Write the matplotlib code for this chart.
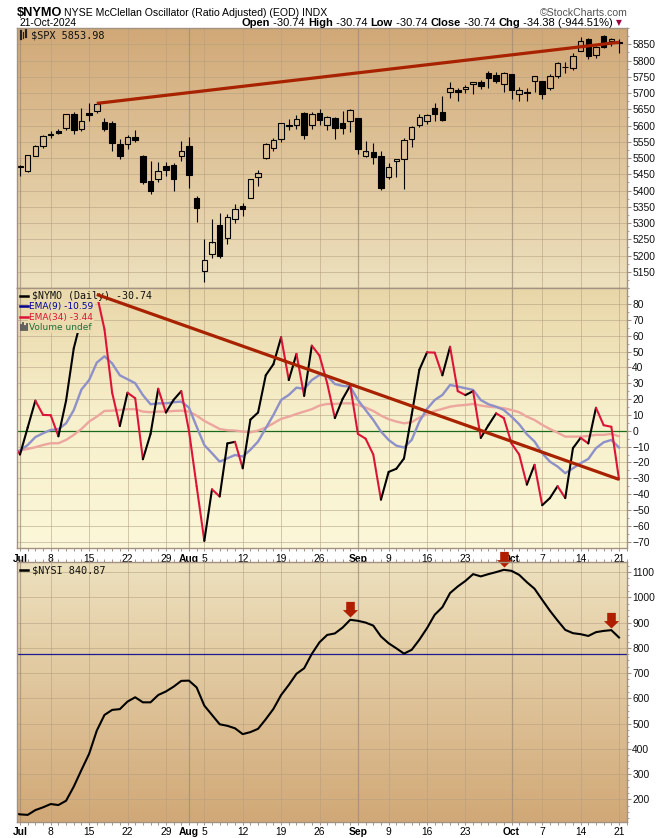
import numpy as np
import pandas as pd
import matplotlib
matplotlib.use('Agg')
import matplotlib.pyplot as plt
from matplotlib.collections import LineCollection
from matplotlib.colors import LinearSegmentedColormap
from matplotlib.path import Path
from matplotlib.lines import Line2D
from matplotlib.ticker import FixedLocator, MultipleLocator
import matplotlib.transforms as mtrans

# ---------------- data ----------------
dates = pd.bdate_range('2024-07-01', '2024-10-21')
dates = dates[~dates.isin(pd.to_datetime(['2024-07-04', '2024-09-02']))]
date_str = [d.strftime('%Y-%m-%d') for d in dates]
prev_day = '2024-06-28'
line_dates = [prev_day] + date_str

spx_open = [5471, 5461, 5507, 5537, 5572, 5584, 5591, 5635, 5590, 5638,
            5644, 5610, 5608, 5543, 5544, 5565, 5505, 5428, 5434, 5476,
            5478, 5505, 5537, 5376, 5151, 5206, 5293, 5253, 5313, 5352,
            5376, 5442, 5500, 5530, 5557, 5602, 5603, 5637, 5602, 5639,
            5602, 5624, 5608, 5613, 5624, 5506, 5520, 5507, 5442, 5490,
            5496, 5557, 5603, 5615, 5655, 5641, 5702, 5709, 5711, 5727,
            5733, 5762, 5755, 5727, 5757, 5698, 5702, 5738, 5738, 5715,
            5752, 5780, 5776, 5829, 5866, 5816, 5875, 5859, 5857]
spx_high = [5480, 5510, 5539, 5570, 5583, 5590, 5635, 5642, 5655, 5670,
            5670, 5622, 5614, 5558, 5570, 5585, 5508, 5490, 5488, 5487,
            5486, 5552, 5566, 5384, 5250, 5312, 5330, 5328, 5358, 5363,
            5436, 5463, 5546, 5561, 5608, 5620, 5632, 5643, 5642, 5651,
            5628, 5627, 5646, 5651, 5624, 5552, 5547, 5522, 5484, 5497,
            5561, 5600, 5636, 5636, 5670, 5690, 5733, 5715, 5725, 5735,
            5741, 5767, 5764, 5765, 5757, 5719, 5716, 5753, 5738, 5757,
            5796, 5796, 5822, 5871, 5870, 5846, 5879, 5870, 5866]
spx_low = [5445, 5458, 5507, 5531, 5562, 5574, 5586, 5574, 5583, 5614,
           5639, 5584, 5522, 5497, 5527, 5550, 5419, 5390, 5427, 5444,
           5399, 5491, 5409, 5302, 5119, 5193, 5193, 5234, 5299, 5322,
           5376, 5415, 5497, 5523, 5550, 5586, 5590, 5560, 5590, 5602,
           5587, 5560, 5574, 5581, 5511, 5503, 5481, 5402, 5434, 5441,
           5406, 5535, 5596, 5604, 5614, 5615, 5686, 5674, 5701, 5698,
           5713, 5714, 5730, 5703, 5682, 5676, 5674, 5702, 5682, 5710,
           5745, 5763, 5771, 5829, 5804, 5809, 5840, 5846, 5824]
spx_close = [5475, 5509, 5537, 5567, 5573, 5577, 5634, 5585, 5615, 5631,
             5667, 5588, 5545, 5505, 5564, 5556, 5427, 5399, 5459, 5464,
             5436, 5522, 5447, 5347, 5186, 5240, 5200, 5319, 5344, 5344,
             5434, 5455, 5543, 5554, 5608, 5597, 5621, 5571, 5635, 5617,
             5626, 5592, 5592, 5648, 5529, 5520, 5503, 5408, 5471, 5496,
             5554, 5596, 5626, 5633, 5635, 5618, 5714, 5703, 5719, 5733,
             5722, 5745, 5738, 5762, 5709, 5710, 5700, 5751, 5696, 5751,
             5792, 5780, 5815, 5860, 5815, 5842, 5841, 5865, 5854]

nymo = [-8,
        -15, 2, 19, 10, 9.8, -3.5, 19, 52, 71, 80,
        86, 64, 24, 3, 24, 20.5, -18, -2, 26.5, 11.5,
        19.5, 25, 0, -35, -69.5, -37, -41.5, -8, -7, -23.7,
        7, 11.5, 35, 42, 59, 32, 48.5, 22, 53.7, 47.4,
        30, 8, 20, 28.5, -2, -5, -15, -43.5, -26, -24,
        -17.5, 10, 38.5, 49.5, 49.3, 35, 53, 25, 22.5, 25,
        -4.5, 3.5, 11, 8, -8, -15, -34, -21.5, -47, -42.5,
        -35, -42.5, -11, -4.5, -8, 14.5, 3.5, 2.5, -30.74]
ema9 = [-14,
        -12.5, -9, -4, -1.6, 0.5, 1, 4.7, 13, 26, 32,
        43, 47, 42.5, 35, 32.5, 30, 22.5, 16.7, 17.3, 17.3,
        18, 18.4, 14.6, 2.6, -9, -14.2, -19.5, -17.4, -15.3, -16.3,
        -12, -6.8, 1.6, 10, 19.4, 22.6, 27.2, 26.4, 32, 35.2,
        34.6, 29.5, 28.3, 27.9, 19.4, 13.1, 6.8, -0.5, -5.8, -9.4,
        -10.6, -5.8, 5.8, 13.8, 19.4, 22.6, 28.9, 27.9, 26.8, 25.8,
        19.4, 16.7, 15.2, 13.1, 8.9, 4.1, -2.2, -6.8, -14.2, -19.5,
        -22.6, -26.8, -23.7, -20.5, -17.8, -11, -7.3, -5.8, -10.59]
ema34 = [-13,
         -12.5, -11.5, -10.4, -9, -7.9, -7.9, -5.8, -2.6, 1.1, 5.8,
         8.9, 12.5, 12.7, 13.1, 13.6, 13.6, 12.1, 11.7, 12.1, 12.1,
         12.5, 12.7, 12.1, 9.6, 6.2, 3.7, 1.1, 0.3, 0.1, -0.5,
         -1, 0.1, 2, 4.7, 7.5, 8.9, 10.6, 12.1, 13.6, 15.9,
         16.9, 16.9, 17.3, 17.3, 16.3, 14.6, 12.5, 9.6, 7.3, 5.8,
         4.7, 5.4, 8.3, 10.4, 12.5, 13.8, 15.2, 15.9, 16.3, 16.9,
         15.9, 15.2, 14.8, 14.2, 13.1, 11.7, 8.9, 6.8, 3.7, 1.1,
         -1.2, -3.7, -3.7, -3.7, -3.3, -2.6, -2.6, -2, -3.44]
nysi = [146,
        140, 138, 157, 168, 181, 177, 194, 250, 316, 380,
        472, 534, 554, 557, 587, 604, 584, 584, 613, 627,
        646, 669, 670, 643, 571, 534, 497, 491, 481, 458,
        466, 479, 517, 558, 613, 653, 697, 719, 776, 822,
        851, 857, 880, 911, 907, 900, 888, 845, 818, 798,
        777, 792, 832, 878, 931, 961, 1017, 1043, 1065, 1092,
        1083, 1092, 1100, 1109, 1105, 1089, 1060, 1034, 990, 947,
        908, 871, 858, 854, 847, 862, 867, 870, 840.87]

spx_trend_dates = ['2024-07-16', '2024-10-21']
spx_trend_vals = [5668, 5856]
nymo_trend_dates = ['2024-07-16', '2024-10-21']
nymo_trend_vals = [86, -30.7]
nysi_level = 775
arrow_dates = ['2024-08-30', '2024-09-30', '2024-10-18']

xtick_dates = ['2024-07-01', '2024-07-08', '2024-07-15', '2024-07-22', '2024-07-29',
               '2024-08-01', '2024-08-05', '2024-08-12', '2024-08-19', '2024-08-26',
               '2024-09-03', '2024-09-09', '2024-09-16', '2024-09-23',
               '2024-10-01', '2024-10-07', '2024-10-14', '2024-10-21']
xtick_labels = ['Jul', '8', '15', '22', '29', 'Aug', '5', '12', '19', '26',
                'Sep', '9', '16', '23', 'Oct', '7', '14', '21']

spx_yticks = list(range(5150, 5851, 50))
nymo_yticks = list(range(-70, 81, 10))
nysi_yticks = list(range(200, 1101, 100))

title_sym = '$NYMO'
title_desc = 'NYSE McClellan Oscillator (Ratio Adjusted) (EOD) INDX'
date_text = '21-Oct-2024'
quote_parts = [('Open', True), (' -30.74 ', False), ('High', True), (' -30.74 ', False),
               ('Low', True), (' -30.74 ', False), ('Close', True), (' -30.74 ', False),
               ('Chg', True), (' -34.38 (-944.51%) ', False)]
spx_legend = '$SPX 5853.98'
nymo_legend = ['$NYMO (Daily) -30.74', 'EMA(9) -10.59', 'EMA(34) -3.44', 'Volume undef']
nysi_legend = '$NYSI 840.87'

# ---------------- helpers ----------------
pos = {d: i for i, d in enumerate(date_str)}
pos[prev_day] = -1
xl = np.array([pos[d] for d in line_dates])
xs = np.arange(len(date_str))

W, H = 670, 838
fig = plt.figure(figsize=(W / 100, H / 100), dpi=100)
fig.patch.set_facecolor('white')


def rect(top, bottom, left=16.5, right=626.7):
    return [left / W, 1 - bottom / H, (right - left) / W, (bottom - top) / H]


def fx(x):
    return x / W


def fy(y):
    return 1 - y / H


SPINE = '#a39282'
GRID = '#b49e80'
MONTH = '#9c8a78'
FONT = ['Liberation Sans', 'DejaVu Sans']

ax1 = fig.add_axes(rect(28, 288))
ax2 = fig.add_axes(rect(288, 548.3))
ax3 = fig.add_axes(rect(562, 821.7))

# gradient colours listed from top to bottom of each panel
grads = {
    ax1: ['#d1a877', '#ede1be'],
    ax2: ['#e8d6a8', '#f7f0cc', '#fbf7d8'],
    ax3: ['#ede1be', '#d1a877'],
}
xlim = (-0.456, 79.0)
ylims = {ax1: (5100, 5900), ax2: (-74.2, 90.1), ax3: (111, 1140)}
yticks = {ax1: spx_yticks, ax2: nymo_yticks, ax3: nysi_yticks}
yminor = {ax1: 25, ax2: 5, ax3: 25}

month_idx = [pos[d] for d, l in zip(xtick_dates, xtick_labels) if l.isalpha()]
week_idx = [pos[d] for d, l in zip(xtick_dates, xtick_labels) if not l.isalpha()]

for ax in (ax1, ax2, ax3):
    cmap = LinearSegmentedColormap.from_list('g', grads[ax])
    g = np.linspace(0, 1, 256).reshape(-1, 1)
    ax.imshow(g, cmap=cmap, extent=[0, 1, 0, 1], transform=ax.transAxes,
              aspect='auto', zorder=0, interpolation='bicubic', origin='upper')
    ax.set_xlim(*xlim)
    ax.set_ylim(*ylims[ax])
    for v in yticks[ax]:
        ax.axhline(v, color=GRID, lw=0.7, alpha=0.55, zorder=1)
    for i in week_idx:
        ax.axvline(i, color=GRID, lw=0.7, alpha=0.55, zorder=1)
    for i in month_idx:
        ax.axvline(i, color=MONTH, lw=0.9, alpha=0.7, zorder=1)
    for s in ax.spines.values():
        s.set_color(SPINE)
        s.set_linewidth(1.0)
        s.set_zorder(10)
    ax.yaxis.tick_right()
    ax.yaxis.set_major_locator(FixedLocator(yticks[ax]))
    ax.yaxis.set_minor_locator(MultipleLocator(yminor[ax]))
    ax.tick_params(axis='y', which='major', length=3, width=0.8, color=SPINE,
                   pad=1, labelsize=7.4, labelcolor='#111111')
    ax.tick_params(axis='y', which='minor', length=1.5, width=0.6, color=SPINE)
    ax.xaxis.set_major_locator(FixedLocator([pos[d] for d in xtick_dates]))
    ax.xaxis.set_minor_locator(MultipleLocator(1))
    ax.tick_params(axis='x', which='both', length=2, width=0.7, color=SPINE,
                   direction='out', pad=2, labelsize=7.4)
    for lab in ax.get_yticklabels():
        lab.set_fontfamily(FONT)

ax1.tick_params(axis='x', which='both', bottom=False, labelbottom=False)
ax3.tick_params(axis='x', which='both', top=True)
for ax in (ax2, ax3):
    ax.set_xticklabels(xtick_labels)
    for lab in ax.get_xticklabels():
        lab.set_fontfamily(FONT)
        if lab.get_text().isalpha():
            lab.set_fontweight('bold')

# ---------------- SPX candles ----------------
o = np.array(spx_open, float)
h = np.array(spx_high, float)
lo = np.array(spx_low, float)
c = np.array(spx_close, float)
top = np.maximum(o, c)
bot = np.minimum(o, c)
ax1.vlines(xs, top, h, color='black', lw=0.8, zorder=3)
ax1.vlines(xs, lo, bot, color='black', lw=0.8, zorder=3)
up = c >= o
ax1.bar(xs[up], (top - bot)[up], bottom=bot[up], width=0.72,
        facecolor='none', edgecolor='black', linewidth=0.8, zorder=4)
ax1.bar(xs[~up], (top - bot)[~up], bottom=bot[~up], width=0.72,
        facecolor='black', edgecolor='black', linewidth=0.8, zorder=4)
ax1.plot([pos[d] for d in spx_trend_dates], spx_trend_vals, color='#a82200',
         lw=2.3, solid_capstyle='butt', zorder=6)

# ---------------- NYMO ----------------
ax2.axhline(0, color='#1a6a1a', lw=0.9, zorder=2)
ax2.plot(xl, ema34, color='#eca69e', lw=1.7, zorder=2.5)
ax2.plot(xl, ema9, color='#8e90c9', lw=1.7, zorder=2.6)
nv = np.array(nymo, float)
pts = np.column_stack([xl, nv])
segs = np.stack([pts[:-1], pts[1:]], axis=1)
cols = ['#000000' if nv[k + 1] >= nv[k] else '#dc1438' for k in range(len(nv) - 1)]
lc = LineCollection(segs, colors=cols, linewidths=1.5, zorder=3, capstyle='round')
ax2.add_collection(lc)
ax2.plot([pos[d] for d in nymo_trend_dates], nymo_trend_vals, color='#a82200',
         lw=2.3, solid_capstyle='butt', zorder=6)

# ---------------- NYSI ----------------
ax3.axhline(nysi_level, color='#1c1c8c', lw=0.9, zorder=2)
ax3.plot(xl, nysi, color='black', lw=1.5, zorder=3)
arrow_verts = [(0, 0), (7.6, 7.4), (4.3, 7.4), (4.3, 15.6), (-4.3, 15.6),
               (-4.3, 7.4), (-7.6, 7.4), (0, 0)]
arrow_path = Path(arrow_verts, [Path.MOVETO] + [Path.LINETO] * 6 + [Path.CLOSEPOLY])
ms = 2 * 15.6 * 72 / 100
trans_up = mtrans.offset_copy(ax3.transData, fig=fig, y=2.5, units='dots')
for d in arrow_dates:
    k = line_dates.index(d)
    ax3.plot([xl[k]], [nysi[k]], marker=arrow_path, markersize=ms, color='#b01e00',
             markeredgewidth=0, linestyle='none', transform=trans_up,
             clip_on=False, zorder=8)

# ---------------- legends ----------------
MONO = ['DejaVu Sans Mono']
for xa, y0, y1, fill in [(20.5, 31, 39, True), (23, 32, 38, False), (25.5, 30.5, 37, True)]:
    ax1.add_line(Line2D([fx(xa), fx(xa)], [fy(y0), fy(y1)], transform=fig.transFigure,
                        color='#222222', lw=1.6 if fill else 0.8, zorder=7))
ax1.text(fx(31), fy(35), spx_legend, transform=fig.transFigure, fontsize=7.4,
         family=MONO, va='center', ha='left', color='#111111', zorder=7)

leg_bg = '#eadaae'
rows_y = [296, 306.5, 317, 327.3]
icon_cols = ['#000000', '#00008b', '#dc1438']
for k in range(3):
    ax2.add_line(Line2D([fx(20), fx(28)], [fy(rows_y[k])] * 2, transform=fig.transFigure,
                        color=icon_cols[k], lw=1.8, zorder=7))
ax2.text(fx(31.5), fy(rows_y[0]), nymo_legend[0], transform=fig.transFigure, fontsize=7.2,
         family=MONO, va='center', ha='left', color='#111111', zorder=4.5,
         bbox=dict(boxstyle='square,pad=0.15', fc=leg_bg, ec='none'))
ax2.text(fx(29), fy(rows_y[1]), nymo_legend[1], transform=fig.transFigure, fontsize=6.5,
         family=['DejaVu Sans'], va='center', ha='left', color='#0000a0', zorder=4.5,
         bbox=dict(boxstyle='square,pad=0.15', fc=leg_bg, ec='none'))
ax2.text(fx(29), fy(rows_y[2]), nymo_legend[2], transform=fig.transFigure, fontsize=6.5,
         family=['DejaVu Sans'], va='center', ha='left', color='#dc1438', zorder=4.5,
         bbox=dict(boxstyle='square,pad=0.15', fc=leg_bg, ec='none'))
ax2.text(fx(29), fy(rows_y[3]), nymo_legend[3], transform=fig.transFigure, fontsize=6.5,
         family=['DejaVu Sans'], va='center', ha='left', color='#1f6e3a', zorder=4.5,
         bbox=dict(boxstyle='square,pad=0.15', fc=leg_bg, ec='none'))
for xa, hh in [(20.5, 5), (22.5, 7), (24.5, 4), (26.5, 6)]:
    ax2.add_line(Line2D([fx(xa), fx(xa)], [fy(rows_y[3] + 3), fy(rows_y[3] + 3 - hh)],
                        transform=fig.transFigure, color='#555555', lw=1.3, zorder=7))

ax3.add_line(Line2D([fx(20), fx(28)], [fy(570)] * 2, transform=fig.transFigure,
                    color='#000000', lw=1.8, zorder=7))
ax3.text(fx(31.5), fy(570), nysi_legend, transform=fig.transFigure, fontsize=7.4,
         family=MONO, va='center', ha='left', color='#111111', zorder=7)

# ---------------- header ----------------
fig.text(fx(17), fy(16.5), title_sym, fontsize=9.2, fontweight='bold', family=FONT,
         va='baseline', ha='left')
fig.text(fx(64), fy(16), title_desc, fontsize=7.6, family=FONT, va='baseline', ha='left')
fig.text(fx(628), fy(16), '\u00a9StockCharts.com', fontsize=7.6, family=FONT,
         va='baseline', ha='right', color='#555555')
fig.text(fx(19), fy(26), date_text, fontsize=7.4, family=FONT, va='baseline', ha='left')

renderer = fig.canvas.get_renderer()
xcur = 242.0
for s, b in quote_parts:
    t = fig.text(fx(xcur), fy(26), s, fontsize=8.0, family=FONT,
                 fontweight='bold' if b else 'normal', va='baseline', ha='left')
    xcur += t.get_window_extent(renderer).width
fig.text(fx(xcur), fy(25.5), '\u25bc', fontsize=5.5, family=['DejaVu Sans'],
         va='baseline', ha='left', color='#a00040')

fig.savefig('out.png', dpi=100, facecolor='white')
